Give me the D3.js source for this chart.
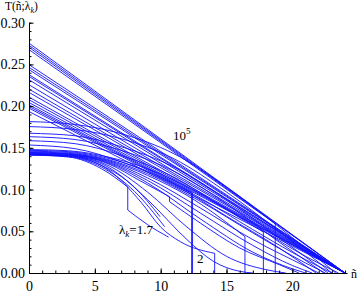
<!DOCTYPE html>
<html>
<head>
<meta charset="utf-8">
<script src="https://cdn.jsdelivr.net/npm/d3@7"></script>
<style>
  body { margin: 0; background: #fff; }
  text { font-family: "Liberation Serif", "Times New Roman", serif; fill: #000; }
</style>
</head>
<body>
<svg id="chart" width="360" height="295"></svg>
<script>
const xTicks = [0, 5, 10, 15, 20];
const yTicks = [0, 0.05, 0.10, 0.15, 0.20, 0.25, 0.30];
const nEnd = 24;

// large λ: straight curves, T at ñ=0, all run down to T=0 at ñ=24
const straightT0 = [0.2755, 0.2729, 0.2705, 0.2497, 0.2465, 0.2437, 0.2377, 0.2356,
  0.2316, 0.2256, 0.2204, 0.2164, 0.2108, 0.2076, 0.2043, 0.2016, 0.1935];

// straight curves that stop with a drop: [T at ñ=0, ñ of drop, T before drop]
const straightDrops = [[0.2677, 18.7, 0.0591], [0.1976, 12.35, 0.0958], [0.1996, 12.42, 0.0963]];

// intermediate λ: bent curves
const midCurves = [
  [[0, 0.1815], [3.5, 0.178], [7, 0.167], [11, 0.143], [15, 0.103], [19, 0.055], [23.3, 0]],
  [[0, 0.1755], [3.5, 0.172], [7, 0.161], [11, 0.137], [15, 0.097], [19, 0.05], [23, 0]],
  [[0, 0.1675], [3.5, 0.1645], [7, 0.1514], [11, 0.127], [15, 0.088], [19, 0.042], [22.7, 0]],
  [[0, 0.1634], [3.5, 0.16], [7, 0.147], [11, 0.122], [15, 0.083], [19, 0.037], [22.4, 0]],
  [[0, 0.1586], [3.5, 0.155], [7, 0.141], [11, 0.115], [15, 0.076], [17.8, 0.049], [17.8, 0]],
  [[0, 0.1534], [3.5, 0.149], [7, 0.1333], [11, 0.106], [15, 0.068], [19, 0.03], [21.8, 0]]
];

// small λ (down to 1.7): curves bunched near T=0.142 at ñ=0
const lowCurves = [
  [[0, 0.1414], [3, 0.139], [5.5, 0.125], [7.5, 0.103], [7.5, 0.0755], [9, 0.058], [10.6, 0.043]],
  [[0, 0.1416], [3, 0.1395], [5.5, 0.127], [8, 0.098], [10.3, 0.0555]],
  [[0, 0.1418], [3, 0.14], [5.5, 0.129], [8, 0.103], [9.95, 0.0675]],
  [[0, 0.142], [3, 0.1403], [6, 0.124], [8.5, 0.085], [10, 0.055], [11.5, 0.0375], [14.1, 0.0236], [14.1, 0]],
  [[0, 0.1423], [3, 0.1407], [6, 0.127], [9, 0.088], [12, 0.04], [14, 0.014], [16, 0.002], [17, 0]],
  [[0, 0.1426], [3, 0.141], [6, 0.129], [9, 0.097], [12, 0.055], [15, 0.02], [18, 0.004], [19.5, 0]],
  [[0, 0.143], [3, 0.1415], [6, 0.131], [8.5, 0.11], [10.67, 0.0915], [10.67, 0.0855], [13, 0.06], [16, 0.03], [19, 0.01], [20.5, 0]],
  [[0, 0.1435], [3, 0.142], [6, 0.132], [9, 0.108], [13, 0.065], [17, 0.025], [20, 0.005], [21, 0]],
  [[0, 0.144], [3, 0.1425], [6, 0.133], [9, 0.111], [13, 0.072], [17, 0.033], [20, 0.009], [21.5, 0]],
  [[0, 0.1445], [3, 0.143], [6, 0.134], [9, 0.114], [13, 0.078], [17, 0.04], [21, 0.008], [22, 0]],
  [[0, 0.1452], [3, 0.1435], [6, 0.135], [9, 0.117], [12, 0.093], [16.4, 0.0435], [16.4, 0]],
  [[0, 0.146], [3, 0.1445], [6, 0.136], [9, 0.119], [13, 0.086], [17, 0.048], [21, 0.012], [22.5, 0]],
  [[0, 0.147], [3, 0.1455], [6, 0.1375], [9, 0.122], [13, 0.09], [17, 0.052], [21, 0.016], [23, 0]],
  [[0, 0.148], [3, 0.1465], [6, 0.139], [9, 0.125], [13, 0.095], [17, 0.058], [21, 0.02], [23.5, 0]]
];

const svg = d3.select("#chart");

const x = d3.scaleLinear().domain([0, 24.15]).range([29, 347]);
const y = d3.scaleLinear().domain([0, 0.30]).range([273, 22.7]);

// gather every curve as a list of points
let curves = straightT0.map(t => [[0, t], [nEnd, 0]]);
straightDrops.forEach(d => curves.push([[0, d[0]], [d[1], d[2]], [d[1], 0]]));
curves = curves.concat(midCurves, lowCurves);

const smooth = d3.line().x(d => x(d[0])).y(d => y(d[1])).curve(d3.curveMonotoneX);
const straight = d3.line().x(d => x(d[0])).y(d => y(d[1]));

const plot = svg.append("g");
curves.forEach(pts => {
  // split at vertical drops (same ñ twice) so the smooth part stays monotone
  let run = [pts[0]];
  for (let i = 1; i < pts.length; i++) {
    if (pts[i][0] === pts[i - 1][0]) {
      if (run.length > 1) plot.append("path").attr("d", smooth(run));
      plot.append("path").attr("d", straight([pts[i - 1], pts[i]]));
      run = [pts[i]];
    } else {
      run.push(pts[i]);
    }
  }
  if (run.length > 1) plot.append("path").attr("d", smooth(run));
});
plot.selectAll("path")
  .attr("fill", "none")
  .attr("stroke", "#1010ff")
  .attr("stroke-width", 0.9);

// axes, Mathematica style: ticks pointing into the plot
const xMinor = d3.range(0, 25, 1);
const yMinor = d3.range(0, 0.301, 0.01);
const serif = "Liberation Serif, Times New Roman, serif";

svg.append("g")
  .attr("transform", "translate(0,273)")
  .call(d3.axisBottom(x).tickValues(xMinor).tickSize(-2.5).tickFormat(""))
  .call(g => g.select(".domain").remove());
svg.append("g")
  .attr("transform", "translate(0,273)")
  .attr("font-family", serif)
  .call(d3.axisBottom(x).tickValues(xTicks).tickSizeInner(-4.5).tickSizeOuter(0).tickPadding(8)
    .tickFormat(d3.format("d")))
  .call(g => g.selectAll("text").style("font-size", "14px"));

svg.append("g")
  .attr("transform", "translate(29,0)")
  .call(d3.axisLeft(y).tickValues(yMinor).tickSize(-2.5).tickFormat(""))
  .call(g => g.select(".domain").remove());
svg.append("g")
  .attr("transform", "translate(29,0)")
  .attr("font-family", serif)
  .call(d3.axisLeft(y).tickValues(yTicks).tickSizeInner(-4.5).tickSizeOuter(0).tickPadding(4)
    .tickFormat(d3.format(".2f")))
  .call(g => g.selectAll("text").style("font-size", "14px"));

svg.selectAll(".domain").attr("stroke", "#000");
svg.selectAll(".tick line").attr("stroke", "#000");

// axis labels
const yLab = svg.append("text").attr("x", 5).attr("y", 10).style("font-size", "11.5px");
yLab.append("tspan").text("T(ñ;λ");
yLab.append("tspan").attr("dy", 2.5).style("font-size", "8px").style("font-style", "italic").text("k");
yLab.append("tspan").attr("dy", -2.5).text(")");

svg.append("text").attr("x", 351).attr("y", 278).style("font-size", "12px").text("ñ");

// curve annotations
const big = svg.append("text").attr("x", 173).attr("y", 140).style("font-size", "13px");
big.append("tspan").text("10");
big.append("tspan").attr("dy", -6).style("font-size", "9px").text("5");

const small = svg.append("text").attr("x", 119).attr("y", 234).style("font-size", "13px");
small.append("tspan").text("λ");
small.append("tspan").attr("dy", 3).style("font-size", "9px").style("font-style", "italic").text("k");
small.append("tspan").attr("dy", -3).text("=1.7");

svg.append("text").attr("x", 197).attr("y", 263).style("font-size", "13px").text("2");
</script>
</body>
</html>
